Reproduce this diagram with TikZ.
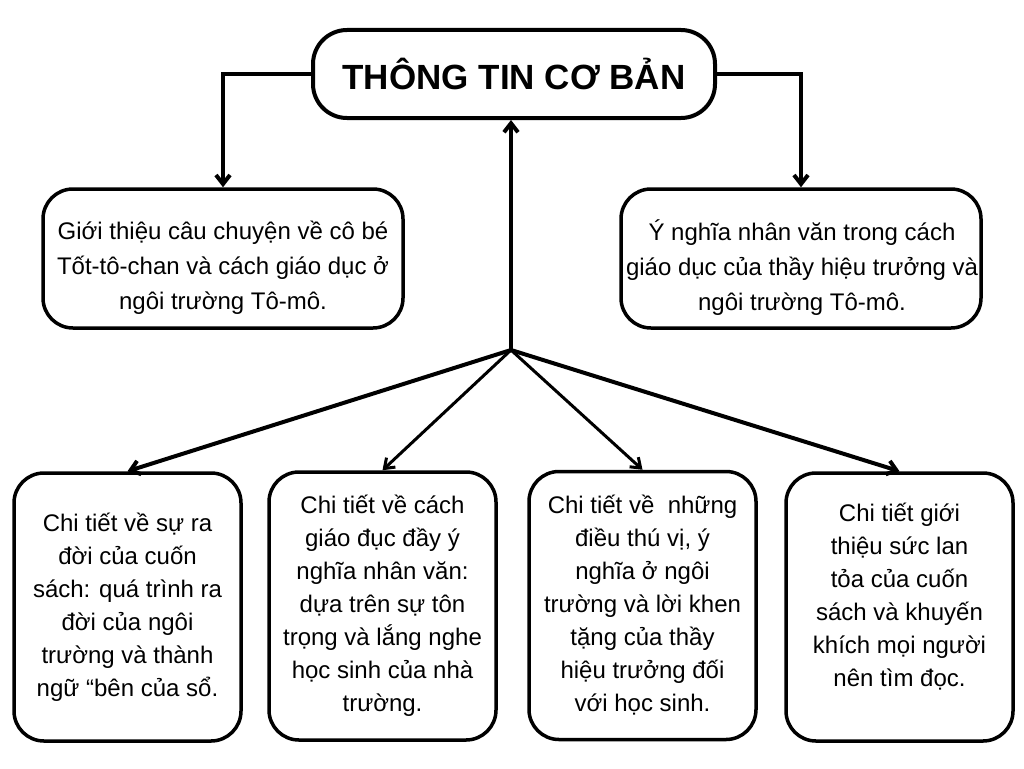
\documentclass[tikz,border=0pt]{standalone}
\usepackage{fontspec}
\setmainfont{Liberation Sans}
\usetikzlibrary{arrows.meta}
\begin{document}
\begin{tikzpicture}[x=1pt,y=-1pt,
  box/.style={draw=black, line width=3.5pt, rounded corners=30pt, align=center, inner sep=0pt},
  titlebox/.style={box, line width=4pt, rounded corners=34pt, minimum width=402pt, minimum height=88pt, font=\fontsize{35}{40}\selectfont\bfseries},
  midbox/.style={box, minimum width=360pt, minimum height=139pt},
  midtext/.style={align=center, font=\fontsize{24}{35}\selectfont, inner sep=0pt},
  lowbox/.style={box, minimum width=227pt, minimum height=268pt, font=\fontsize{24}{33}\selectfont},
  lowtext/.style={align=center, font=\fontsize{24}{33}\selectfont, inner sep=0pt},
  arr/.style={line width=4pt, -{Straight Barb[length=9pt,width=14pt]}},
  arrthin/.style={line width=3pt, -{Straight Barb[length=9pt,width=13pt]}}
]
\useasboundingbox[fill=white] (0,0) rectangle (1024,768);
\node[titlebox] (title) at (514,74) {THÔNG TIN CƠ BẢN};
\node[midbox] (midL) at (223,258.5) {};
\node[midtext] (midLt) at (223,268) {Giới thiệu câu chuyện về cô bé\\Tốt-tô-chan và cách giáo dục ở\\ngôi trường Tô-mô.};
\node[midbox] (midR) at (801,258.5) {};
\node[midtext] (midRt) at (802,268) {Ý nghĩa nhân văn trong cách\\giáo dục của thầy hiệu trưởng và\\ngôi trường Tô-mô.};
\node[lowbox] (b1) at (127.5,607) {Chi tiết về sự ra\\đời của cuốn\\sách: quá trình ra\\đời của ngôi\\trường và thành\\ngữ “bên của sổ.};
\node[lowbox] (b2) at (382.5,606) {Chi tiết về cách\\giáo đục đầy ý\\nghĩa nhân văn:\\dựa trên sự tôn\\trọng và lắng nghe\\học sinh của nhà\\trường.};
\node[lowbox] (b3) at (642.5,605.5) {Chi tiết về\ \ những\\điều thú vị, ý\\nghĩa ở ngôi\\trường và lời khen\\tặng của thầy\\hiệu trưởng đối\\với học sinh.};
\node[lowbox] (b4) at (899.5,607) {};
\node[lowtext] (b4t) at (899.5,597) {Chi tiết giới\\thiệu sức lan\\tỏa của cuốn\\sách và khuyến\\khích mọi người\\nên tìm đọc.};
\coordinate (hub) at (511,350);
\draw[arr] (title.west) -| (midL.north);
\draw[arr] (title.east) -| (midR.north);
\draw[arr] (hub) -- (hub |- title.south);
\draw[arr] (hub) -- (b1.north);
\draw[arrthin] (hub) -- (b2.north);
\draw[arrthin] (hub) -- (b3.north);
\draw[arr] (hub) -- (b4.north);
\end{tikzpicture}
\end{document}
